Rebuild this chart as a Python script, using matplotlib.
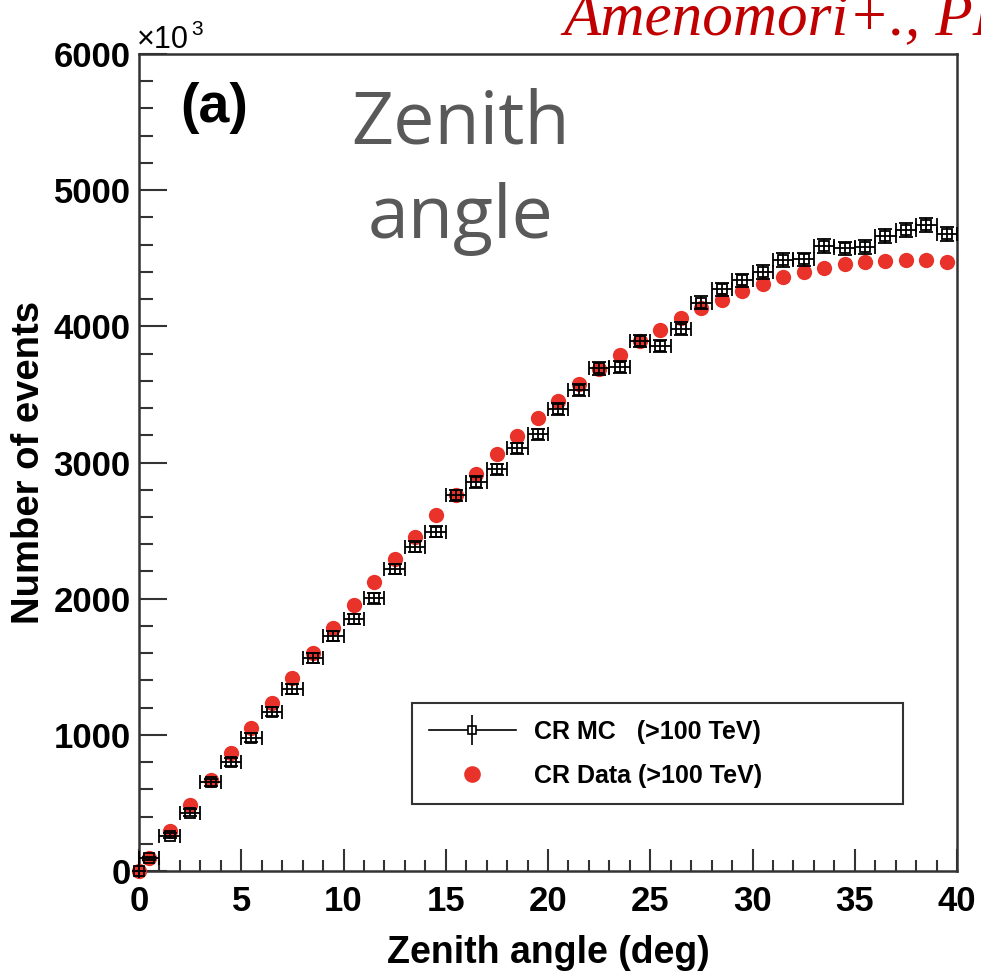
import matplotlib
matplotlib.use('Agg')
import matplotlib.pyplot as plt
from matplotlib.lines import Line2D
from matplotlib.legend_handler import HandlerTuple
from matplotlib.ticker import MultipleLocator

plt.rcParams['font.family'] = ['Liberation Sans', 'DejaVu Sans']
plt.rcParams['font.weight'] = 'bold'

# zenith angle bin centres (deg)
zenith = [0, 0.5, 1.5, 2.5, 3.5, 4.5, 5.5, 6.5, 7.5, 8.5, 9.5,
          10.5, 11.5, 12.5, 13.5, 14.5, 15.5, 16.5, 17.5, 18.5, 19.5,
          20.5, 21.5, 22.5, 23.5, 24.5, 25.5, 26.5, 27.5, 28.5, 29.5,
          30.5, 31.5, 32.5, 33.5, 34.5, 35.5, 36.5, 37.5, 38.5, 39.5]

# number of events (x10^3)
cr_data = [0, 98, 296, 485, 668, 864, 1052, 1236, 1420, 1603, 1782,
           1953, 2124, 2291, 2455, 2614, 2761, 2915, 3059, 3194, 3324,
           3453, 3573, 3688, 3789, 3891, 3972, 4058, 4131, 4197, 4258,
           4310, 4359, 4400, 4432, 4457, 4471, 4481, 4486, 4486, 4476]

cr_mc = [0, 93, 259, 428, 651, 802, 979, 1170, 1336, 1566, 1728,
         1850, 2002, 2217, 2381, 2490, 2758, 2858, 2949, 3103, 3206,
         3390, 3532, 3691, 3703, 3891, 3857, 3984, 4175, 4273, 4339,
         4400, 4486, 4491, 4589, 4572, 4584, 4662, 4706, 4743, 4677]

mc_xerr = [0] + [0.5] * 40
mc_yerr = [0, 12, 20, 25, 28, 30, 32, 34, 35, 36, 37,
           38, 38, 39, 40, 40, 41, 42, 42, 43, 43,
           44, 44, 45, 45, 46, 46, 47, 47, 48, 48,
           49, 49, 50, 50, 50, 51, 51, 52, 52, 52]

W, H = 981, 975
fig = plt.figure(figsize=(W / 100, H / 100), dpi=100)
ax = fig.add_axes([139 / W, 104 / H, 818 / W, 817 / H])

ax.plot(zenith, cr_data, 'o', color='#e8322a', ms=11, mec='none',
        clip_on=False, zorder=3)
eb = ax.errorbar(zenith, cr_mc, xerr=mc_xerr, yerr=mc_yerr, fmt='s', ms=6.5,
                 mfc='none', mec='black', mew=1.3, ecolor='black',
                 elinewidth=1.3, capsize=5, capthick=1.3, zorder=4)
for art in eb.get_children():
    art.set_clip_on(False)

ax.set_xlim(0, 40)
ax.set_ylim(0, 6000)
ax.xaxis.set_major_locator(MultipleLocator(5))
ax.xaxis.set_minor_locator(MultipleLocator(1))
ax.yaxis.set_major_locator(MultipleLocator(1000))
ax.yaxis.set_minor_locator(MultipleLocator(200))
ax.tick_params(which='both', direction='in', top=False, right=False,
               labelsize=25, width=1.5, color='#333333')
ax.tick_params(axis='x', which='major', length=16, pad=10)
ax.tick_params(axis='x', which='minor', length=8)
ax.tick_params(axis='y', which='major', length=20, pad=6)
ax.tick_params(axis='y', which='minor', length=10)
for sp in ax.spines.values():
    sp.set_linewidth(1.8)
    sp.set_color('#333333')

ax.set_xlabel('Zenith angle (deg)', fontsize=27, fontweight='bold')
ax.xaxis.set_label_coords(0.5, -0.078)
ax.set_ylabel('Number of events', fontsize=27.5, fontweight='bold')
ax.yaxis.set_label_coords(-0.112, 0.5)

# x10^3 multiplier
fig.text(137 / W, 1 - 48 / H, '×10', fontsize=22, fontweight='normal', va='baseline')
fig.text(191 / W, 1 - 35 / H, '3', fontsize=15, fontweight='normal', va='baseline')

fig.text(180 / W, 1 - 122 / H, '(a)', fontsize=40, va='baseline')
fig.text(461 / W, 1 - 143 / H, 'Zenith', fontsize=53, family='Open Sans',
         fontweight='normal', color='#595959', ha='center', va='baseline')
fig.text(461 / W, 1 - 238 / H, 'angle', fontsize=53, family='Open Sans',
         fontweight='normal', color='#595959', ha='center', va='baseline')
fig.text(563 / W, 1 - 35 / H, 'Amenomori+., PRL 126, 141101 (2021)',
         family='Liberation Serif', style='italic', fontweight='normal',
         color='#c00000', fontsize=44, va='baseline')

h_mc = (Line2D([], [], color='black', lw=1.2, marker='s', ms=6,
               mfc='white', mec='black', mew=1.2),
        Line2D([], [], color='black', lw=0, marker='|', ms=22, mew=1.2))
h_data = Line2D([], [], lw=0, marker='o', color='#e8322a', ms=12, mec='none')
leg = ax.legend([h_mc, h_data], ['CR MC   (>100 TeV)', 'CR Data (>100 TeV)'],
                handler_map={tuple: HandlerTuple(ndivide=1)},
                loc='upper left', bbox_to_anchor=(0.334, 0.2056, 0.6, 0),
                mode='expand', borderaxespad=0, fancybox=False, framealpha=1,
                fontsize=18, handlelength=3.5, handletextpad=0.7,
                labelspacing=0.8, borderpad=0.66)
leg.get_frame().set_edgecolor('#333333')
leg.get_frame().set_linewidth(1.5)

fig.savefig('out.png', dpi=100)
